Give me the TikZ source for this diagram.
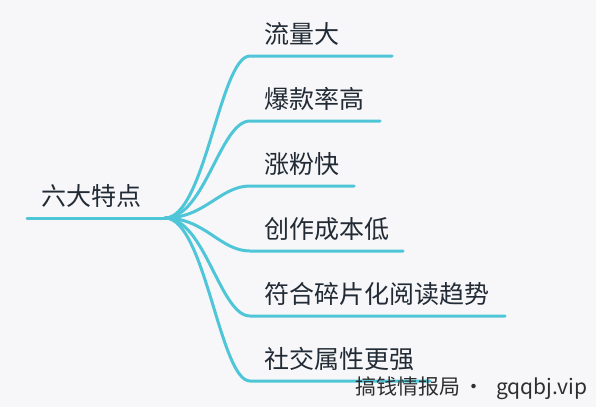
\documentclass[tikz,border=0pt]{standalone}
\usepackage{fontspec}
\usepackage{tikz}
\newfontfamily\cjk{Noto Sans CJK SC}
\definecolor{Paper}{HTML}{F7F7F9}
\definecolor{Twig}{HTML}{4EC6D8}
\definecolor{Ink}{HTML}{222B35}
\definecolor{Mark}{HTML}{2E2E2E}

\begin{document}
\begin{tikzpicture}[x=1pt,y=-1pt,
  branch/.style={Twig,line width=3pt,line cap=round},
  topic/.style={anchor=west,inner sep=0pt,text=Ink,font=\cjk\fontsize{25}{25}\selectfont}]
  \fill[Paper] (0,0) rectangle (596,407);
  \useasboundingbox (0,0) rectangle (596,407);
  % root
  \coordinate (r0) at (27,218);
  \coordinate (hub) at (165,218);
  \node[topic] (root) at (41,196) {六大特点};
  \draw[branch] (r0) -- (hub);
  % six branches
  \foreach \i/\y/\xe/\lab in {
    1/56/392/流量大,
    2/121/380/爆款率高,
    3/186/354/涨粉快,
    4/251/403/创作成本低,
    5/316/505/符合碎片化阅读趋势,
    6/381/430/社交属性更强} {
    \coordinate (s\i) at (250,\y);
    \coordinate (e\i) at (\xe,\y);
    \node[topic] (t\i) at (264,\y-22) {\lab};
    \draw[branch] (hub) .. controls (205,218) and (220,\y) .. (s\i) -- (e\i);
  }
  \node[anchor=west,inner sep=0pt,text=Mark,font=\cjk\fontsize{21}{21}\selectfont] (mark) at (355,388) {搞钱情报局\hspace{3pt}·\hspace{12pt}gqqbj.vip};
\end{tikzpicture}
\end{document}
